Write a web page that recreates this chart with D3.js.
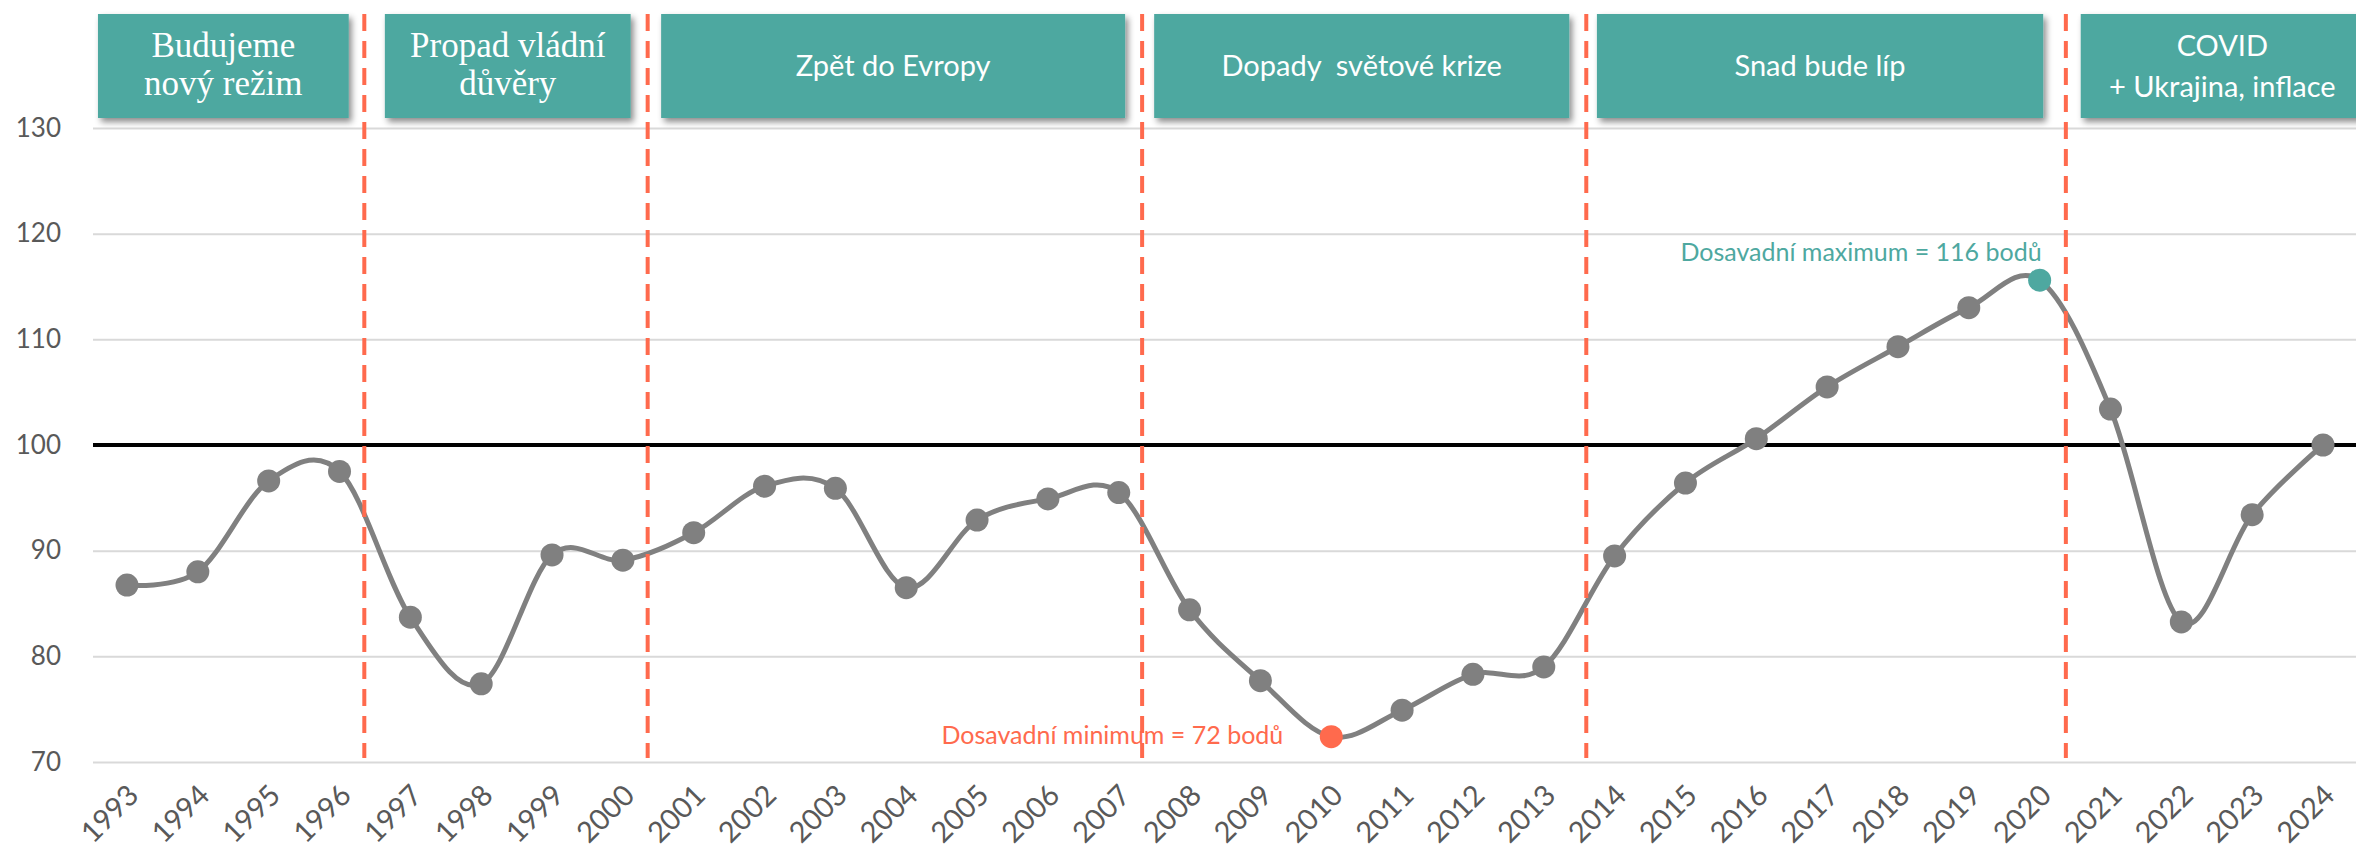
<!DOCTYPE html>
<html>
<head>
<meta charset="utf-8">
<script src="https://cdn.jsdelivr.net/npm/d3@7/dist/d3.min.js"></script>
<style>
  body { margin: 0; background: #fff; }
  #chart svg { display: block; }
</style>
</head>
<body>
<div id="chart"></div>
<script>
// Index spotřebitelské důvěry 1993–2024

const years = [1993, 1994, 1995, 1996, 1997, 1998, 1999, 2000, 2001, 2002, 2003, 2004, 2005, 2006, 2007, 2008,
  2009, 2010, 2011, 2012, 2013, 2014, 2015, 2016, 2017, 2018, 2019, 2020, 2021, 2022, 2023, 2024];
const values = [86.75, 88.0, 96.6, 97.5, 83.7, 77.4, 89.6, 89.1, 91.7, 96.1, 95.9, 86.5, 92.9, 94.9, 95.5, 84.4,
  77.7, 72.4, 74.9, 78.3, 79.0, 89.5, 96.4, 100.6, 105.5, 109.3, 113.0, 115.6, 103.4, 83.25, 93.4, 100.0];
const yTicks = [70, 80, 90, 100, 110, 120, 130];

// období (v letech na ose x)
const phaseLabels = [["Budujeme", "nový režim"], ["Propad vládní", "důvěry"], ["Zpět do Evropy"],
  ["Dopady\u00a0 světové krize"], ["Snad bude líp"], ["COVID", "+ Ukrajina, inflace"]];
const phaseStart = [1992.59, 1996.64, 2000.54, 2007.50, 2013.75, 2020.58];
const phaseEnd = [1996.13, 2000.11, 2007.09, 2013.36, 2020.05, 2024.7];
const dividers = [1996.35, 2000.35, 2007.33, 2013.6, 2020.37];

const minYear = 2010, minLabel = "Dosavadní minimum = 72 bodů";
const maxYear = 2020, maxLabel = "Dosavadní maximum = 116 bodů";

function main() {
  const width = 2356, height = 851;
  const left = 93;
  const teal = "#4EA8A0", coral = "#FF6A4D", grey = "#808080", txt = "#595959";
  const sans = "Lato, 'Open Sans', sans-serif";

  const x = d3.scaleLinear().domain([1993, 2024]).range([127, 2323]);
  const y = d3.scaleLinear().domain([70, 130]).range([762, 128]);

  const svg = d3.select("#chart").append("svg")
    .attr("width", width).attr("height", height)
    .attr("viewBox", `0 0 ${width} ${height}`);

  const defs = svg.append("defs");
  const f = defs.append("filter").attr("id", "shadow")
    .attr("x", "-10%").attr("y", "-20%").attr("width", "130%").attr("height", "150%");
  f.append("feDropShadow").attr("dx", 3).attr("dy", 4).attr("stdDeviation", 3)
    .attr("flood-color", "#000").attr("flood-opacity", 0.45);

  // osa Y + mřížka
  const yAxis = svg.append("g")
    .attr("transform", `translate(${left},0)`)
    .call(d3.axisLeft(y).tickValues(yTicks).tickSize(-(width - left)).tickPadding(32));
  yAxis.select(".domain").remove();
  yAxis.selectAll(".tick line").attr("stroke", "#D9D9D9").attr("stroke-width", 2);
  yAxis.selectAll(".tick text")
    .attr("fill", txt).style("font-family", sans).style("font-size", "26px");

  // linie 100
  svg.append("line")
    .attr("x1", left).attr("x2", width)
    .attr("y1", y(100)).attr("y2", y(100))
    .attr("stroke", "#000").attr("stroke-width", 4);

  // osa X
  const xAxis = svg.append("g")
    .attr("transform", `translate(0,${y(70)})`)
    .call(d3.axisBottom(x).tickValues(years).tickFormat(d3.format("d")).tickSize(0));
  xAxis.select(".domain").remove();
  xAxis.selectAll(".tick text")
    .attr("fill", txt)
    .style("font-family", sans).style("font-size", "29px")
    .attr("text-anchor", "end")
    .attr("dy", null).attr("y", 0)
    .attr("transform", "translate(13,35) rotate(-45)");

  // křivka
  const pts = years.map((yr, i) => [yr, values[i]]);
  const line = d3.line()
    .x(d => x(d[0])).y(d => y(d[1]))
    .curve(d3.curveCardinal.tension(0));

  svg.append("path")
    .datum(pts)
    .attr("d", line)
    .attr("fill", "none")
    .attr("stroke", grey)
    .attr("stroke-width", 5);

  svg.append("g").selectAll("circle")
    .data(pts)
    .join("circle")
    .attr("cx", d => x(d[0]))
    .attr("cy", d => y(d[1]))
    .attr("r", 11.5)
    .attr("fill", d => d[0] === minYear ? coral : d[0] === maxYear ? teal : grey);

  // popisky min / max
  const minVal = values[years.indexOf(minYear)];
  const maxVal = values[years.indexOf(maxYear)];
  svg.append("text")
    .attr("x", x(minYear) - 48).attr("y", y(minVal) + 7)
    .attr("text-anchor", "end")
    .attr("fill", coral)
    .style("font-family", sans).style("font-size", "25px")
    .text(minLabel);
  svg.append("text")
    .attr("x", x(maxYear) + 2).attr("y", y(maxVal) - 19)
    .attr("text-anchor", "end")
    .attr("fill", teal)
    .style("font-family", sans).style("font-size", "25px")
    .text(maxLabel);

  // dělicí čáry
  svg.append("g").selectAll("line")
    .data(dividers)
    .join("line")
    .attr("x1", d => x(d)).attr("x2", d => x(d))
    .attr("y1", 14).attr("y2", 758)
    .attr("stroke", coral)
    .attr("stroke-width", 4)
    .attr("stroke-dasharray", "17 10");

  // boxy období
  const boxTop = 14, boxBottom = 118;
  const boxes = svg.append("g").selectAll("g")
    .data(phaseLabels)
    .join("g");

  boxes.append("rect")
    .attr("x", (d, i) => x(phaseStart[i]))
    .attr("y", boxTop)
    .attr("width", (d, i) => x(phaseEnd[i]) - x(phaseStart[i]))
    .attr("height", boxBottom - boxTop)
    .attr("fill", teal)
    .attr("filter", "url(#shadow)");

  boxes.each(function(lines, i) {
    const serif = i < 2;
    const cx = (x(phaseStart[i]) + Math.min(x(phaseEnd[i]), width + 8)) / 2;
    const mid = (boxTop + boxBottom) / 2;
    const step = serif ? 38 : 41;
    const t = d3.select(this).append("text")
      .attr("text-anchor", "middle")
      .attr("fill", "#fff")
      .style("font-family", serif ? "'Liberation Serif', 'DejaVu Serif', serif" : sans)
      .style("font-size", serif ? "35px" : "29px");
    lines.forEach((s, k) => {
      t.append("tspan")
        .attr("x", cx)
        .attr("y", mid + (k - (lines.length - 1) / 2) * step - (serif ? 2 : 0))
        .attr("dy", "0.35em")
        .text(s);
    });
  });
}

main();
</script>
</body>
</html>
